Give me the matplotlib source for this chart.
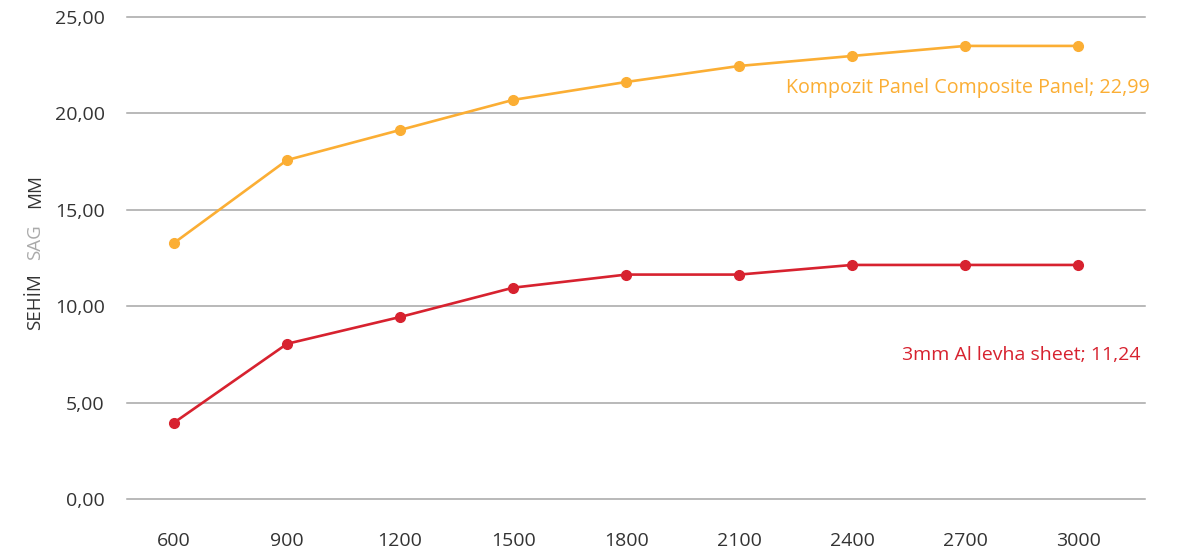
import matplotlib.pyplot as plt
from matplotlib.ticker import FuncFormatter

# span lengths (mm) and deflection values (mm)
spans = ['600', '900', '1200', '1500', '1800', '2100', '2400', '2700', '3000']
composite = [13.28, 17.58, 19.14, 20.70, 21.63, 22.46, 22.98, 23.50, 23.50]
aluminium = [3.96, 8.05, 9.44, 10.96, 11.64, 11.64, 12.14, 12.14, 12.14]
yticks = [0, 5, 10, 15, 20, 25]

orange = '#FBAE34'
red = '#D7222F'
grid = '#A6A6A6'
dark = '#333333'

plt.rcParams['font.family'] = ['Open Sans', 'DejaVu Sans']

fig = plt.figure(figsize=(11.86, 5.58), dpi=100)
ax = fig.add_axes([127 / 1186, 1 - 499 / 558, (1145 - 127) / 1186, (499 - 17) / 558])

x = list(range(len(spans)))
ax.plot(x, composite, color=orange, lw=1.9, marker='o', ms=7, zorder=3)
ax.plot(x, aluminium, color=red, lw=1.9, marker='o', ms=7, zorder=3)

ax.set_xlim(-0.416, 8.59)
ax.set_ylim(0, 25)
ax.set_yticks(yticks)
ax.yaxis.set_major_formatter(FuncFormatter(lambda v, p: f'{v:.2f}'.replace('.', ',')))
ax.set_xticks(x)
ax.set_xticklabels(spans)
ax.grid(axis='y', color=grid, lw=1.1)
for gl in ax.get_ygridlines():
    gl.set_clip_on(False)
ax.set_axisbelow(True)
for s in ax.spines.values():
    s.set_visible(False)
ax.tick_params(length=0, labelsize=14, labelcolor=dark)
ax.tick_params(axis='y', pad=16)
ax.tick_params(axis='x', pad=24)

fig.text(1150 / 1186, 1 - 88 / 558, 'Kompozit Panel Composite Panel; 22,99',
         color=orange, fontsize=14.2, ha='right', va='center')
fig.text(1140 / 1186, 1 - 355 / 558, '3mm Al levha sheet; 11,24',
         color=red, fontsize=14, ha='right', va='center')

# y label in three parts, middle one grey
fig.text(35 / 1186, 1 - 302 / 558, 'SEHİM', rotation=90, color=dark,
         fontsize=13.5, ha='center', va='center')
fig.text(35 / 1186, 1 - 242 / 558, 'SAG', rotation=90, color='#AAAAAA',
         fontsize=13.5, ha='center', va='center')
fig.text(35 / 1186, 1 - 191 / 558, 'MM', rotation=90, color=dark,
         fontsize=13.5, ha='center', va='center')

fig.savefig('out.png', dpi=100)
